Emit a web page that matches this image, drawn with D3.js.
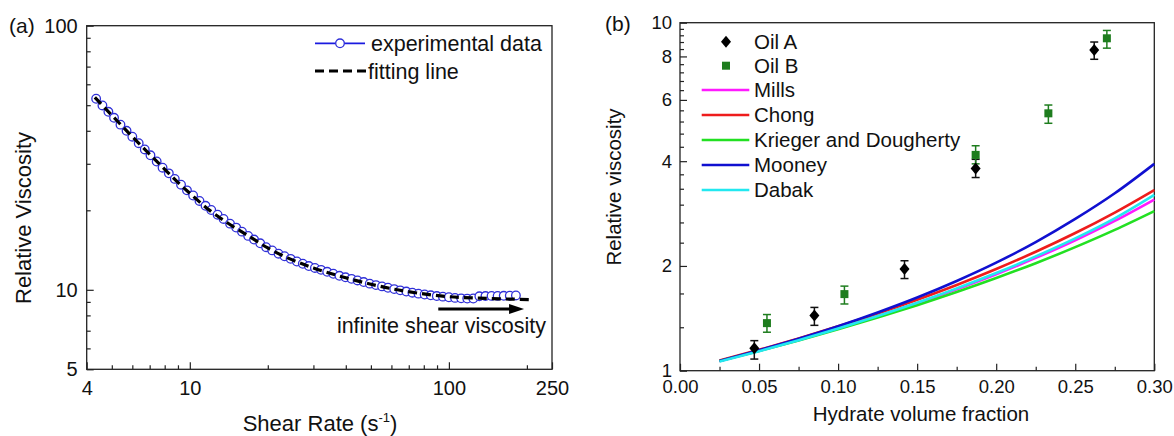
<!DOCTYPE html>
<html><head><meta charset="utf-8">
<script src="https://cdn.jsdelivr.net/npm/d3@7"></script>
<style>body{margin:0;background:#fff} svg{display:block}</style>
</head><body><svg id="c" width="1174" height="436"></svg>
<script>
// ---------- Panel (a) data ----------
const shearRate = [4.35,4.6,4.85,5.1,5.4,5.7,6.0,6.35,6.7,7.05,7.45,7.85,8.3,8.75,9.25,9.75,10.3,10.9,11.5,12.1,12.8,13.5,14.3,15.1,15.9,16.8,17.7,18.7,19.7,20.8,22.0,23.2,24.5,25.9,27.3,28.8,30.4,32.1,33.9,35.8,37.8,39.9,42.1,44.4,46.9,49.5,52.3,55.2,58.2,61.5,64.9,68.5,72.3,76.3,80.6,85.1,89.8,94.8,100,105.6,111.5,117.7,124.2,131.1,138.4,146.1,154.2,162.8,171.8,181.4];
const viscosityExp = [52.9,49.9,47.2,44.8,42.2,40.0,38.0,35.9,34.0,32.3,30.6,29.0,27.6,26.3,25.0,23.8,22.75,21.7,20.8,20.05,19.25,18.55,17.8,17.2,16.6,16.0,15.5,15.0,14.5,14.1,13.7,13.4,13.1,12.8,12.55,12.3,12.1,11.9,11.7,11.5,11.3,11.15,11.0,10.85,10.7,10.55,10.42,10.3,10.18,10.06,9.95,9.85,9.75,9.67,9.6,9.53,9.47,9.42,9.37,9.32,9.28,9.26,9.27,9.45,9.47,9.48,9.48,9.49,9.5,9.52];
const fitShearRate = [4.3,5,6,7,8,9,10,12,14,17,20,25,30,40,50,60,80,100,130,160,210];
const viscosityFit = [53.5,45.8,38.0,32.6,28.6,25.5,23.2,19.9,17.9,15.9,14.4,12.95,12.1,11.1,10.5,10.1,9.65,9.42,9.3,9.24,9.18];
const aXTicks = [4,10,100,250];
const aXMinor = [5,6,7,8,9,20,30,40,50,60,70,80,90,200];
const aYTicks = [5,10,100];
const aYMinor = [6,7,8,9,20,30,40,50,60,70,80,90];
const arrowRate = [91,195];
const arrowVisc = 8.45;

// ---------- Panel (b) data ----------
const phi = [0.025,0.05,0.075,0.1,0.125,0.15,0.175,0.2,0.225,0.25,0.275,0.3];
const mills   = [1.066,1.141,1.226,1.322,1.434,1.563,1.714,1.893,2.109,2.370,2.694,3.103];
const chong   = [1.069,1.148,1.238,1.341,1.460,1.600,1.764,1.960,2.197,2.487,2.848,3.306];
const krieger = [1.066,1.140,1.222,1.316,1.422,1.543,1.683,1.846,2.037,2.265,2.539,2.875];
const mooney  = [1.067,1.145,1.235,1.342,1.470,1.623,1.811,2.044,2.342,2.730,3.235,3.930];
const dabak   = [1.063,1.138,1.224,1.322,1.436,1.568,1.724,1.908,2.130,2.400,2.740,3.200];
const oilAPhi = [0.047,0.085,0.142,0.187,0.262];
const oilAVisc = [1.16,1.44,1.96,3.81,8.35];
const oilALow = [1.08,1.35,1.84,3.59,7.85];
const oilAHigh = [1.22,1.52,2.07,4.05,8.8];
const oilBPhi = [0.055,0.104,0.187,0.233,0.270];
const oilBVisc = [1.37,1.66,4.17,5.49,9.02];
const oilBLow = [1.29,1.555,3.93,5.14,8.45];
const oilBHigh = [1.45,1.75,4.43,5.8,9.5];
const bXTicks = [0,0.05,0.1,0.15,0.2,0.25,0.3];
const bXMinor = [0.025,0.075,0.125,0.175,0.225,0.275];
const bYTicks = [1,2,4,6,8,10];
const bYMinor = [1.333,1.667,2.333,2.667,3,3.333,3.667,4.4,4.8,5.2,5.6,6.4,6.8,7.2,7.6,8.4,8.8,9.2,9.6];
const modelNames = ["Mills","Chong","Krieger and Dougherty","Mooney","Dabak"];
const modelSeries = [mills,chong,krieger,mooney,dabak];
const modelColors = ["#ff1aff","#ee1c1c","#22e022","#1010d0","#22e8f0"];

// ---------- drawing ----------
const FONT = '"Liberation Sans", Arial, Helvetica, sans-serif';
const svg = d3.select("#c");
svg.append("rect").attr("width",1174).attr("height",436).attr("fill","#fff");

function styleAxis(g, fs){
  g.select(".domain").remove();
  g.selectAll("line").attr("stroke","#222").attr("stroke-width",1.2);
  g.selectAll("text").attr("font-size",fs).attr("font-family",FONT).attr("fill","#111");
}
function txt(x,y,s,fs,anchor){
  return svg.append("text").attr("x",x).attr("y",y).attr("font-family",FONT)
    .attr("font-size",fs).attr("fill","#111").attr("text-anchor",anchor||"start").text(s);
}

// ===== Panel (a) =====
const xa = d3.scaleLog().domain([4,250]).range([86.7,552]);
const ya = d3.scaleLog().domain([5,100]).range([369.3,25.7]);
const aBottom = ya.range()[0], aTop = ya.range()[1];

svg.append("g").attr("transform",`translate(0,${aBottom})`)
  .call(d3.axisBottom(xa).tickValues(aXTicks).tickFormat(d3.format("d")).tickSize(-7).tickPadding(11.5))
  .call(g=>styleAxis(g,20));
svg.append("g").attr("transform",`translate(0,${aBottom})`)
  .call(d3.axisBottom(xa).tickValues(aXMinor).tickFormat("").tickSize(-4))
  .call(g=>styleAxis(g,20));
svg.append("g").attr("transform",`translate(${xa.range()[0]},0)`)
  .call(d3.axisLeft(ya).tickValues(aYTicks).tickFormat(d3.format("d")).tickSize(-7).tickPadding(9))
  .call(g=>styleAxis(g,20));
svg.append("g").attr("transform",`translate(${xa.range()[0]},0)`)
  .call(d3.axisLeft(ya).tickValues(aYMinor).tickFormat("").tickSize(-4))
  .call(g=>styleAxis(g,20));
svg.append("rect").attr("x",xa.range()[0]).attr("y",aTop)
  .attr("width",xa.range()[1]-xa.range()[0]).attr("height",aBottom-aTop)
  .attr("fill","none").attr("stroke","#222").attr("stroke-width",1.3);

const expPts = shearRate.map((r,i)=>[r,viscosityExp[i]]);
svg.append("path").datum(expPts)
  .attr("d",d3.line().x(d=>xa(d[0])).y(d=>ya(d[1])))
  .attr("fill","none").attr("stroke","#1a1ae0").attr("stroke-width",1.5);
svg.append("g").selectAll("circle").data(expPts).join("circle")
  .attr("cx",d=>xa(d[0])).attr("cy",d=>ya(d[1])).attr("r",4.3)
  .attr("fill","#fff").attr("stroke","#3030d8").attr("stroke-width",1.3);
const fitPts = fitShearRate.map((r,i)=>[r,viscosityFit[i]]);
svg.append("path").datum(fitPts)
  .attr("d",d3.line().x(d=>xa(d[0])).y(d=>ya(d[1])).curve(d3.curveMonotoneX))
  .attr("fill","none").attr("stroke","#000").attr("stroke-width",3.2).attr("stroke-dasharray","9,5");

// arrow
const ay = ya(arrowVisc);
svg.append("line").attr("x1",xa(arrowRate[0])).attr("x2",xa(arrowRate[1])-12)
  .attr("y1",ay).attr("y2",ay).attr("stroke","#000").attr("stroke-width",3);
svg.append("path").attr("d",`M${xa(arrowRate[1])},${ay} L${xa(arrowRate[1])-15},${ay-5} L${xa(arrowRate[1])-15},${ay+5} Z`).attr("fill","#000");
txt(546,333,"infinite shear viscosity",21.5,"end");

// legend (a)
svg.append("line").attr("x1",315).attr("x2",365).attr("y1",43.3).attr("y2",43.3).attr("stroke","#1a1ae0").attr("stroke-width",1.8);
svg.append("circle").attr("cx",340).attr("cy",43.3).attr("r",4.3).attr("fill","#fff").attr("stroke","#3030d8").attr("stroke-width",1.3);
txt(371,51,"experimental data",21.5);
svg.append("line").attr("x1",315).attr("x2",367).attr("y1",71).attr("y2",71).attr("stroke","#000").attr("stroke-width",3.2).attr("stroke-dasharray","9,5");
txt(368,79,"fitting line",21.5);

// labels (a)
txt(9,33,"(a)",21);
const xl = txt(320,431,"",22,"middle");
xl.append("tspan").text("Shear Rate (s");
xl.append("tspan").attr("font-size",13).attr("dy",-9).text("-1");
xl.append("tspan").attr("dy",9).text(")");
svg.append("text").attr("transform","translate(31,218) rotate(-90)").attr("text-anchor","middle")
  .attr("font-family",FONT).attr("font-size",22).attr("fill","#111").text("Relative Viscosity");

// ===== Panel (b) =====
const xb = d3.scaleLinear().domain([0,0.3]).range([680,1154.3]);
const yb = d3.scaleLog().domain([1,10]).range([370.7,22.7]);
const bBottom = yb.range()[0], bTop = yb.range()[1];

svg.append("g").attr("transform",`translate(0,${bBottom})`)
  .call(d3.axisBottom(xb).tickValues(bXTicks).tickFormat(d3.format(".2f")).tickSize(-7).tickPadding(9))
  .call(g=>styleAxis(g,18.5));
svg.append("g").attr("transform",`translate(0,${bBottom})`)
  .call(d3.axisBottom(xb).tickValues(bXMinor).tickFormat("").tickSize(-4))
  .call(g=>styleAxis(g,18.5));
svg.append("g").attr("transform",`translate(${xb.range()[0]},0)`)
  .call(d3.axisLeft(yb).tickValues(bYTicks).tickFormat(d3.format("d")).tickSize(-7).tickPadding(8))
  .call(g=>styleAxis(g,18.5));
svg.append("g").attr("transform",`translate(${xb.range()[0]},0)`)
  .call(d3.axisLeft(yb).tickValues(bYMinor).tickFormat("").tickSize(-4))
  .call(g=>styleAxis(g,18.5));
svg.append("rect").attr("x",xb.range()[0]).attr("y",bTop)
  .attr("width",xb.range()[1]-xb.range()[0]).attr("height",bBottom-bTop)
  .attr("fill","none").attr("stroke","#222").attr("stroke-width",1.3);

const lineB = d3.line().x(d=>xb(d[0])).y(d=>yb(d[1])).curve(d3.curveMonotoneX);
modelSeries.forEach((s,k)=>{
  svg.append("path").datum(phi.map((p,i)=>[p,s[i]])).attr("d",lineB)
    .attr("fill","none").attr("stroke",modelColors[k]).attr("stroke-width",2.6);
});

function errorBars(px,py,lo,hi,color){
  const g = svg.append("g");
  px.forEach((p,i)=>{
    const x = xb(p);
    g.append("line").attr("x1",x).attr("x2",x).attr("y1",yb(lo[i])).attr("y2",yb(hi[i])).attr("stroke",color).attr("stroke-width",1.5);
    [lo[i],hi[i]].forEach(v=>g.append("line").attr("x1",x-4).attr("x2",x+4).attr("y1",yb(v)).attr("y2",yb(v)).attr("stroke",color).attr("stroke-width",1.5));
  });
}
errorBars(oilAPhi,oilAVisc,oilALow,oilAHigh,"#111");
errorBars(oilBPhi,oilBVisc,oilBLow,oilBHigh,"#1e7d1e");
const diamond = "M0,-6L5,0L0,6L-5,0Z";
svg.append("g").selectAll("path").data(oilAPhi.map((p,i)=>[p,oilAVisc[i]])).join("path")
  .attr("d",diamond).attr("transform",d=>`translate(${xb(d[0])},${yb(d[1])})`).attr("fill","#000");
svg.append("g").selectAll("rect").data(oilBPhi.map((p,i)=>[p,oilBVisc[i]])).join("rect")
  .attr("x",d=>xb(d[0])-4).attr("y",d=>yb(d[1])-4).attr("width",8).attr("height",8).attr("fill","#1e7d1e");

// legend (b)
const rows = [41.7,65.7,90,115,140,165,190];
svg.append("path").attr("d",diamond).attr("transform",`translate(726,${rows[0]})`).attr("fill","#000");
txt(754,rows[0]+7,"Oil A",20.5);
svg.append("rect").attr("x",722).attr("y",rows[1]-4).attr("width",8).attr("height",8).attr("fill","#1e7d1e");
txt(754,rows[1]+7,"Oil B",20.5);
modelNames.forEach((n,k)=>{
  const y = rows[k+2];
  svg.append("line").attr("x1",701.7).attr("x2",749.3).attr("y1",y).attr("y2",y).attr("stroke",modelColors[k]).attr("stroke-width",2.6);
  txt(754,y+7,n,20.5);
});

txt(605,31,"(b)",21);
txt(921,421,"Hydrate volume fraction",20.5,"middle");
svg.append("text").attr("transform","translate(621,187) rotate(-90)").attr("text-anchor","middle")
  .attr("font-family",FONT).attr("font-size",20.5).attr("fill","#111").text("Relative viscosity");
</script></body></html>
